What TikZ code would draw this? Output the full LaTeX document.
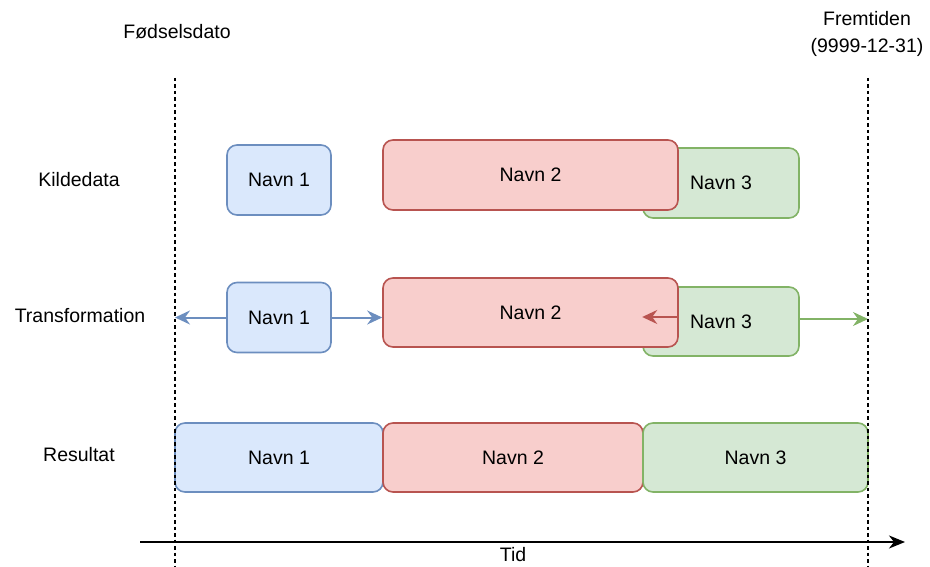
\documentclass[tikz,border=0pt]{standalone}
\usepackage{fontspec}
\setmainfont{Liberation Sans}
\usetikzlibrary{arrows.meta,calc}
\definecolor{blafyll}{HTML}{DAE8FC}
\definecolor{blastrek}{HTML}{6C8EBF}
\definecolor{rodfyll}{HTML}{F8CECC}
\definecolor{rodstrek}{HTML}{B85450}
\definecolor{gronnfyll}{HTML}{D5E8D4}
\definecolor{gronnstrek}{HTML}{82B366}

\begin{document}
\begin{tikzpicture}[x=1pt,y=-1pt,
  every node/.style={font=\fontsize{19.5}{27}\selectfont},
  periode/.style={rounded corners=10pt,line width=1.6pt,minimum height=70pt,inner sep=0pt},
  bla/.style={periode,fill=blafyll,draw=blastrek},
  rod/.style={periode,fill=rodfyll,draw=rodstrek},
  gronn/.style={periode,fill=gronnfyll,draw=gronnstrek},
  pil/.style={line width=2pt,-{Stealth[length=15pt,width=14pt,inset=5pt]}},
  grense/.style={line width=1.4pt,dash pattern=on 3.5pt off 3pt}]
\useasboundingbox (0,0) rectangle (930,567);
%\scriptsize
\node (fodsel) at (177,32) {Fødselsdato};
\node[align=center] (fremtid) at (867,33.5) {Fremtiden\\(9999-12-31)};
\node (kilde) at (79,180) {Kildedata};
\node (transf) at (80,316) {Transformation};
\node (result) at (79,455) {Resultat};
% kildedata
\node[gronn,minimum width=156pt] (k3) at (721,183) {Navn 3};
\node[rod,minimum width=295pt] (k2) at (530.5,175) {Navn 2};
\node[bla,minimum width=104pt] (k1) at (279,180) {Navn 1};
% transformation
\node[gronn,minimum width=156pt,minimum height=69pt] (t3) at (721,321.5) {Navn 3};
\node[rod,minimum width=295pt,minimum height=69pt] (t2) at (530.5,312.5) {Navn 2};
\node[bla,minimum width=104pt] (t1) at (279,317.5) {Navn 1};
% resultat
\node[bla,minimum width=208pt,minimum height=69pt] (r1) at (279,457.5) {Navn 1};
\node[rod,minimum width=260pt,minimum height=69pt] (r2) at (513,457.5) {Navn 2};
\node[gronn,minimum width=225pt,minimum height=69pt] (r3) at (755.5,457.5) {Navn 3};
% grenser
\coordinate (fs topp) at (175,78);
\coordinate (fs bunn) at (175,567);
\coordinate (ft topp) at (868,78);
\coordinate (ft bunn) at (868,567);
\coordinate (fs pil) at (175,317.5);
\coordinate (ft pil) at (868,319);
\draw[pil,blastrek] (t1.west) -- (fs pil);
\draw[pil,blastrek] (t1.east) -- (t1.east -| t2.west);
\draw[pil,rodstrek] ($(t2.east)+(0,4.5)$) -- ($(t2.east -| t3.west)+(0,4.5)$);
\draw[pil,gronnstrek] ($(t3.east)+(0,-2.5)$) -- (ft pil);
\draw[grense] (fs topp) -- (fs bunn);
\draw[grense] (ft topp) -- (ft bunn);
% tidsakse
\coordinate (tid start) at (140,542);
\coordinate (tid slutt) at (905,542);
\draw[line width=2pt,-{Stealth[length=16pt,width=13pt,inset=5pt]}] (tid start) -- (tid slutt);
\node (tid) at (513,555) {Tid};
\end{tikzpicture}
\end{document}
